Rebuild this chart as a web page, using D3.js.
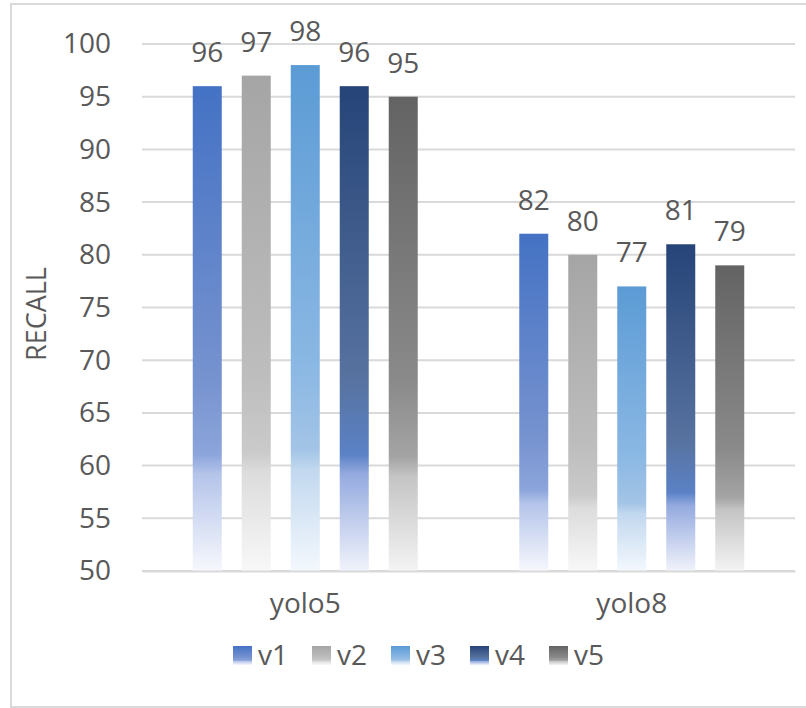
<!DOCTYPE html>
<html>
<head>
<meta charset="utf-8">
<script src="https://cdn.jsdelivr.net/npm/d3@7"></script>
<style>
	body { margin: 0; background: #fff; }
	text { font-family: "Open Sans", "Noto Sans", sans-serif; fill: #595959; }
</style>
</head>
<body>
<svg id="chart" width="806" height="708"></svg>
<script>
"use strict";

// chart data
var categories = ["yolo5", "yolo8"];
var seriesNames = ["v1", "v2", "v3", "v4", "v5"];
var recall = {
	v1: [96, 82],
	v2: [97, 80],
	v3: [98, 77],
	v4: [96, 81],
	v5: [95, 79]
};
var yTicks = [50, 55, 60, 65, 70, 75, 80, 85, 90, 95, 100];

// gradient stops per series (top colour fading to white at the bottom)
var gradStops = {
	v1: [[0, "#4472C4"], [0.6, "#7692CF"], [0.76, "#8CA5DB"], [0.8, "#B4C4EA"], [1, "#F7F8FD"]],
	v2: [[0, "#A5A5A5"], [0.6, "#BDBDBD"], [0.76, "#CACACA"], [0.8, "#DCDCDC"], [1, "#F8F8F8"]],
	v3: [[0, "#5B9BD5"], [0.6, "#8BB8E4"], [0.76, "#A3C4E6"], [0.8, "#C2D8EF"], [1, "#F3F8FD"]],
	v4: [[0, "#264478"], [0.6, "#57729F"], [0.76, "#5B82C6"], [0.8, "#94AADF"], [1, "#F1F3FB"]],
	v5: [[0, "#636363"], [0.6, "#8A8A8A"], [0.76, "#A4A4A4"], [0.8, "#C4C4C4"], [1, "#F4F4F4"]]
};

var svg = d3.select("#chart");
var plot = {left: 142, right: 795, top: 44, bottom: 571};

// chart area border
svg.append("rect")
	.attr("x", 11).attr("y", 4)
	.attr("width", 830).attr("height", 703)
	.attr("fill", "#fff")
	.attr("stroke", "#d9d9d9")
	.attr("stroke-width", 2);

var defs = svg.append("defs");
seriesNames.forEach(function(s) {
	var g = defs.append("linearGradient")
		.attr("id", "grad-" + s)
		.attr("x1", 0).attr("y1", 0)
		.attr("x2", 0).attr("y2", 1);
	gradStops[s].forEach(function(st) {
		g.append("stop").attr("offset", st[0]).attr("stop-color", st[1]);
	});
});

var y = d3.scaleLinear().domain([50, 100]).range([plot.bottom, plot.top]);
var x0 = d3.scaleBand().domain(categories).range([plot.left, plot.right]);
var x1 = d3.scaleBand().domain(seriesNames)
	.range([0, x0.bandwidth()])
	.paddingInner(20 / 49)
	.paddingOuter(1.036);

// gridlines
svg.append("g")
	.selectAll("line")
	.data(yTicks)
	.join("line")
	.attr("x1", plot.left).attr("x2", plot.right)
	.attr("y1", d => y(d)).attr("y2", d => y(d))
	.attr("stroke", "#d9d9d9")
	.attr("stroke-width", 2);

// y axis labels
var yAxis = d3.axisLeft(y).tickValues(yTicks).tickSize(0).tickPadding(31);
svg.append("g")
	.attr("transform", "translate(" + plot.left + ",0)")
	.call(yAxis)
	.call(g => g.select(".domain").remove())
	.selectAll("text")
	.attr("font-size", 28)
	.attr("font-family", null)
	.style("fill", "#595959");

// bars
var groups = svg.append("g")
	.selectAll("g")
	.data(categories)
	.join("g")
	.attr("transform", d => "translate(" + x0(d) + ",0)");

groups.selectAll("rect")
	.data((c, i) => seriesNames.map(s => ({s: s, v: recall[s][i]})))
	.join("rect")
	.attr("x", d => x1(d.s))
	.attr("width", x1.bandwidth())
	.attr("y", d => y(d.v))
	.attr("height", d => y(50) - y(d.v))
	.attr("fill", d => "url(#grad-" + d.s + ")");

// data labels
groups.selectAll("text")
	.data((c, i) => seriesNames.map(s => ({s: s, v: recall[s][i]})))
	.join("text")
	.attr("x", d => x1(d.s) + x1.bandwidth() / 2)
	.attr("y", d => y(d.v) - 24)
	.attr("text-anchor", "middle")
	.attr("font-size", 28)
	.text(d => d.v);

// category axis
var xAxis = d3.axisBottom(x0).tickSize(0).tickPadding(22);
svg.append("g")
	.attr("transform", "translate(0," + plot.bottom + ")")
	.call(xAxis)
	.call(g => g.select(".domain").attr("stroke", "#d9d9d9").attr("stroke-width", 2))
	.selectAll("text")
	.attr("font-size", 28)
	.attr("font-family", null)
	.style("fill", "#595959");

// axis title
svg.append("text")
	.attr("transform", "translate(46,314) rotate(-90)")
	.attr("text-anchor", "middle")
	.attr("font-size", 27)
	.text("RECALL");

// legend
var legend = svg.append("g")
	.attr("transform", "translate(233,646)")
	.selectAll("g")
	.data(seriesNames)
	.join("g")
	.attr("transform", (d, i) => "translate(" + (i * 79) + ",0)");

legend.append("rect")
	.attr("width", 19).attr("height", 19)
	.attr("fill", d => "url(#grad-" + d + ")");

legend.append("text")
	.attr("x", 25)
	.attr("y", 19)
	.attr("font-size", 28)
	.text(d => d);
</script>
</body>
</html>
